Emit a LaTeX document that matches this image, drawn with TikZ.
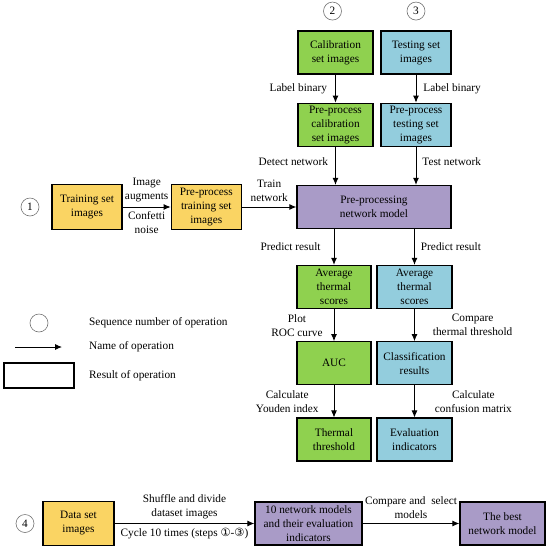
\documentclass[tikz,border=0pt]{standalone}
\usepackage{fontspec}
\setmainfont{Liberation Serif}
\newfontfamily\symfont{DejaVu Sans}
\usetikzlibrary{arrows.meta, positioning, calc}
\definecolor{boxyellow}{HTML}{FAD463}
\definecolor{boxgreen}{HTML}{8FD14F}
\definecolor{boxblue}{HTML}{93CDDD}
\definecolor{boxpurple}{HTML}{A99BC7}

\begin{document}
\begin{tikzpicture}[
        x=1pt, y=1pt,
        font=\fontsize{11.3}{14}\selectfont,
        result/.style={rectangle, draw=black, line width=1.3pt, align=center, inner sep=2pt},
        yellowbox/.style={result, fill=boxyellow, minimum width=70pt, minimum height=45pt},
        greenbox/.style={result, fill=boxgreen, minimum width=75pt, minimum height=43pt},
        bluebox/.style={result, fill=boxblue, minimum width=72pt, minimum height=43pt},
        purplebox/.style={result, fill=boxpurple, minimum height=43pt},
        seqno/.style={circle, draw=black!55, line width=0.6pt, minimum size=18pt, inner sep=0pt},
        lbl/.style={align=center, inner sep=1pt},
        arrow/.style={-{Latex[length=7pt, width=6pt]}, line width=0.9pt}
    ]
        \useasboundingbox (0,0) rectangle (549,-550);
        % step 1: training set
        \node[seqno] (no1) at (30,-207) {1};
        \node[yellowbox] (train) at (87,-207) {Training set\\images};
        \node[yellowbox, right=48pt of train] (pretrain) {Pre-process\\training set\\images};
        % steps 2 and 3: calibration and testing
        \node[greenbox] (cal) at (335.5,-52.5) {Calibration\\set images};
        \node[bluebox, minimum width=70pt] (test) at (416,-52.5) {Testing set\\images};
        \node[seqno, above=10pt of cal, xshift=-3pt] (no2) {2};
        \node[seqno, above=10pt of test] (no3) {3};
        \node[greenbox, below=28pt of cal] (precal) {Pre-process\\calibration\\set images};
        \node[bluebox, minimum width=70pt, below=28pt of test] (pretest) {Pre-process\\testing set\\images};
        \node[purplebox, minimum width=154pt] (net) at (374,-207) {Pre-processing\\network model};
        \node[greenbox, minimum width=74pt] (avgg) at (334,-287) {Average\\thermal\\scores};
        \node[bluebox, minimum width=75pt] (avgb) at (414.5,-287) {Average\\thermal\\scores};
        \node[greenbox, minimum width=74pt, below=32pt of avgg] (auc) {AUC};
        \node[bluebox, minimum width=75pt, below=32pt of avgb] (cls) {Classification\\results};
        \node[greenbox, minimum width=74pt, below=32pt of auc] (thr) {Thermal\\threshold};
        \node[bluebox, minimum width=75pt, below=32pt of cls] (evl) {Evaluation\\indicators};
        % step 4: cycle
        \node[seqno] (no4) at (25,-523.5) {4};
        \node[yellowbox, minimum width=71pt, minimum height=44pt] (data) at (78.5,-523.5) {Data set\\images};
        \node[purplebox, minimum width=107pt] (ten) at (308.5,-523.5) {10 network models\\and their evaluation\\indicators};
        \node[purplebox, minimum width=85pt] (best) at (502.5,-523.5) {The best\\network model};
        % legend
        \node[seqno] (legno) at (39,-323) {};
        \coordinate (legfrom) at (15,-347);
        \coordinate (legto) at (62,-347);
        \node[result, minimum width=70pt, minimum height=25pt] (legbox) at (39,-375.5) {};
        \node[lbl, anchor=west] (legnotext) at (88,-323) {Sequence number of operation};
        \node[lbl, anchor=west] (legtotext) at (88,-347) {Name of operation};
        \node[lbl, anchor=west] (legboxtext) at (88,-376) {Result of operation};
        \draw[arrow] (legfrom) -- (legto);
        % operations
        \draw[arrow] (train) -- node[lbl, above=4pt] {Image\\augments} node[lbl, below=3pt] {Confetti\\noise} (pretrain);
        \draw[arrow] (pretrain) -- node[lbl, above=4pt] {Train\\network} (net);
        \draw[arrow] (cal) -- node[lbl, left=7pt] {Label binary} (precal);
        \draw[arrow] (test) -- node[lbl, right=6pt] {Label binary} (pretest);
        \draw[arrow] (precal.south) -- node[lbl, pos=0.4, left=6pt] {Detect network} (precal.south |- net.north);
        \draw[arrow] (pretest.south) -- node[lbl, pos=0.4, right=5pt] {Test network} (pretest.south |- net.north);
        \draw[arrow] (net.south -| avgg.north) -- node[lbl, left=12pt] {Predict result} (avgg.north);
        \draw[arrow] (net.south -| avgb.north) -- node[lbl, right=5pt] {Predict result} (avgb.north);
        \draw[arrow] (avgg) -- node[lbl, left=10pt] {Plot\\ROC curve} (auc);
        \draw[arrow] (avgb) -- node[lbl, right=17pt] {Compare\\thermal threshold} (cls);
        \draw[arrow] (auc) -- node[lbl, left=14pt] {Calculate\\Youden index} (thr);
        \draw[arrow] (cls) -- node[lbl, right=19pt] {Calculate\\confusion matrix} (evl);
        \draw[arrow] (data) -- node[lbl, above=3pt] {Shuffle and divide\\dataset images} node[lbl, below=3pt] {Cycle 10 times (steps {\symfont ①}-{\symfont ③})} (ten);
        \draw[arrow] (ten) -- node[lbl, above=3pt] {Compare and~ select\\models} (best);
    \end{tikzpicture}
\end{document}
